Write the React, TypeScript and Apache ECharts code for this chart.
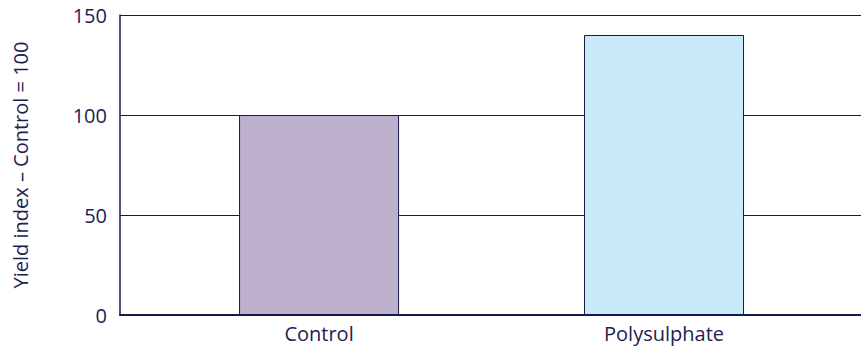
import React, { useEffect, useRef } from "react";
import * as echarts from "echarts";

const categories = ["Control", "Polysulphate"];
const yieldIndex = [100, 140];
const barColors = ["#bdb0cc", "#c7e9f8"];
const yTicks = [0, 50, 100, 150];
const yAxisTitle = "Yield index – Control = 100";

const NAVY = "#16194a";
const TEXT = "#1e2150";
const FONT = "'Open Sans', 'Noto Sans', sans-serif";

export default function App() {
  const ref = useRef<HTMLDivElement>(null);
  useEffect(() => {
    if (!ref.current) return;
    const chart = echarts.init(ref.current, undefined, { renderer: "svg" });
    const data = yieldIndex.map((v, i) => ({
      value: [i, v],
      itemStyle: { color: barColors[i], borderColor: NAVY, borderWidth: 1 },
    }));
    chart.setOption({
      animation: false,
      textStyle: { fontFamily: FONT },
      grid: { left: 120, right: 0, top: 15, bottom: 36, containLabel: false },
      xAxis: {
        type: "value",
        min: -0.577,
        max: 1.571,
        axisLine: { show: true, onZero: false, lineStyle: { color: NAVY, width: 2 } },
        axisTick: { show: false },
        splitLine: { show: false },
        axisLabel: {
          customValues: categories.map((_, i) => i),
          formatter: (v: number) => categories[Math.round(v)] ?? "",
          fontSize: 20,
          color: TEXT,
          fontFamily: FONT,
          margin: 8,
        },
      },
      yAxis: {
        type: "value",
        min: yTicks[0],
        max: yTicks[yTicks.length - 1],
        interval: 50,
        name: yAxisTitle,
        nameLocation: "middle",
        nameGap: 90,
        nameTextStyle: { fontSize: 20, color: TEXT, fontFamily: FONT },
        axisLine: { show: true, onZero: false, lineStyle: { color: NAVY, width: 1.5 } },
        axisTick: { show: false },
        splitLine: { show: true, lineStyle: { color: NAVY, width: 1 } },
        axisLabel: { fontSize: 20, color: TEXT, fontFamily: FONT, margin: 13 },
      },
      series: [
        {
          type: "bar",
          barWidth: 160,
          data,
        },
      ],
    });
    return () => chart.dispose();
  }, []);
  return <div ref={ref} style={{ width: 861, height: 351, position: "absolute", left: 0, top: 0 }} />;
}
